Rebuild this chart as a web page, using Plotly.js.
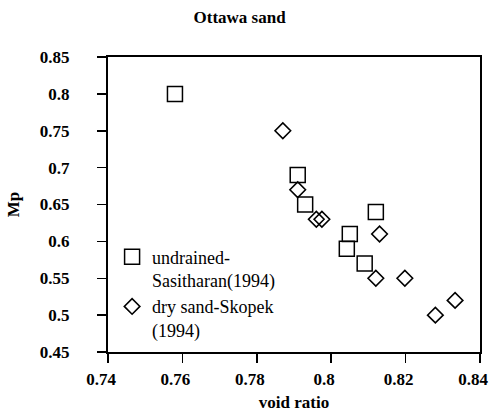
<!DOCTYPE html>
<html><head><meta charset="utf-8">
<script src="https://cdn.plot.ly/plotly-3.0.1.min.js"></script>
<style>html,body{margin:0;padding:0;background:#fff}#chart{width:489px;height:412px}</style>
</head><body><div id="chart"></div>
<script>
const undrainedX = [0.758, 0.791, 0.793, 0.812, 0.805, 0.8042, 0.809];
const undrainedY = [0.80, 0.69, 0.65, 0.64, 0.61, 0.59, 0.57];
const dryX = [0.787, 0.791, 0.796, 0.7975, 0.813, 0.812, 0.8198, 0.828, 0.8333];
const dryY = [0.75, 0.67, 0.63, 0.63, 0.61, 0.55, 0.55, 0.50, 0.52];
const xTicks = [0.74, 0.76, 0.78, 0.8, 0.82, 0.84];
const yTicks = [0.45, 0.5, 0.55, 0.6, 0.65, 0.7, 0.75, 0.8, 0.85];
const font = "Liberation Serif";
const traces = [
  {x: undrainedX, y: undrainedY, mode: 'markers', type: 'scatter', name: 'undrained-<br>Sasitharan(1994)',
   marker: {symbol: 'square-open', size: 15, color: '#000', line: {width: 1.5, color: '#000'}}},
  {x: dryX, y: dryY, mode: 'markers', type: 'scatter', name: 'dry sand-Skopek<br>(1994)',
   marker: {symbol: 'diamond-open', size: 12, color: '#000', line: {width: 1.6, color: '#000'}}}
];
function axisCommon() {
  return {showgrid: false, zeroline: false, showline: true, linecolor: '#000', linewidth: 2,
    mirror: true, ticks: 'outside', ticklen: 9, tickwidth: 1.5, tickcolor: '#000',
    ticklabeloverflow: 'allow',
    tickfont: {family: font, size: 17, color: '#000', weight: 'bold'}};
}
const layout = {
  width: 489, height: 412,
  margin: {l: 108, r: 9, t: 57, b: 60},
  paper_bgcolor: '#fff', plot_bgcolor: '#fff',
  title: {text: 'Ottawa sand', font: {family: font, size: 17, color: '#000', weight: 'bold'}, x: 0.49, xanchor: 'center', y: 0.958, yanchor: 'middle'},
  xaxis: Object.assign(axisCommon(), {range: [0.74, 0.84], tickvals: xTicks, ticktext: xTicks.map(v => String(v)),
    ticklabelstandoff: 2, ticklabelshift: -7,
    title: {text: 'void ratio', font: {family: font, size: 17, color: '#000', weight: 'bold'}, standoff: 10}}),
  yaxis: Object.assign(axisCommon(), {range: [0.45, 0.85], tickvals: yTicks, ticktext: yTicks.map(v => String(v)),
    ticklabelstandoff: 24,
    title: {text: 'Mp', font: {family: font, size: 17, color: '#000', weight: 'bold'}, standoff: 16}}),
  showlegend: true,
  legend: {x: 0.011, y: 0.385, xanchor: 'left', yanchor: 'top', bgcolor: 'rgba(0,0,0,0)', valign: 'top',
    font: {family: font, size: 18, color: '#000'}, tracegroupgap: 8}
};
Plotly.newPlot('chart', traces, layout, {displayModeBar: false, staticPlot: true});
</script></body></html>
